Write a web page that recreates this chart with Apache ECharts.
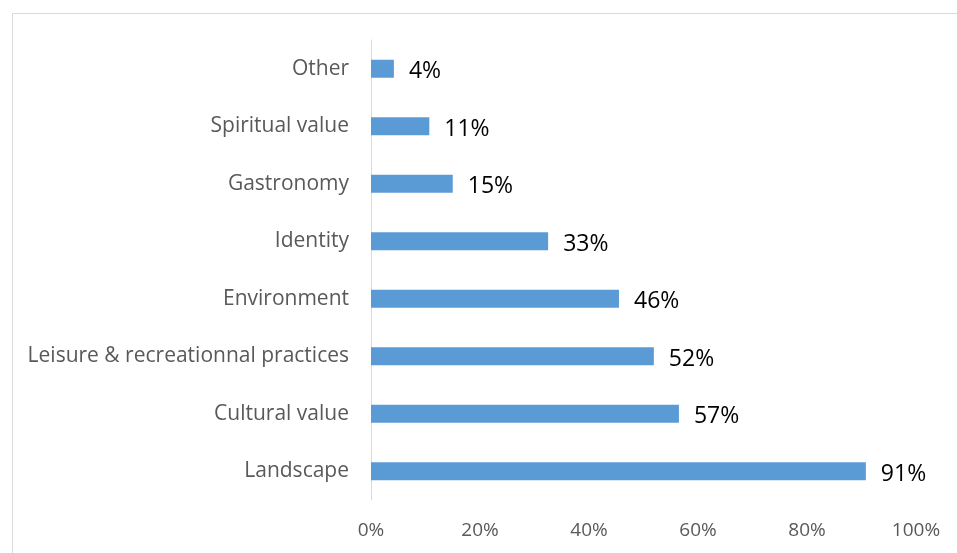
<!DOCTYPE html>
<html>
<head>
<meta charset="utf-8">
<script src="https://cdn.jsdelivr.net/npm/echarts@6/dist/echarts.min.js"></script>
<style>
  html, body { margin: 0; padding: 0; background: #fff; }
  #chart { width: 957px; height: 553px; }
</style>
</head>
<body>
<div id="chart"></div>
<script>
// categories, bottom to top
var categories = ['Landscape', 'Cultural value', 'Leisure & recreationnal practices', 'Environment', 'Identity', 'Gastronomy', 'Spiritual value', 'Other'];
// shares in % (labels show them rounded)
var values = [90.8, 56.5, 51.9, 45.5, 32.5, 15.0, 10.7, 4.2];
var xTicks = [0, 20, 40, 60, 80, 100];

var chart = echarts.init(document.getElementById('chart'));
var font = 'Open Sans, Liberation Sans, sans-serif';

var option = {
  animation: false,
  graphic: [{
    type: 'rect',
    left: 10, top: 11,
    shape: { width: 960, height: 560 },
    style: { fill: 'none', stroke: '#d9d9d9', lineWidth: 1 }
  }],
  grid: { left: 371, right: 41, top: 40, bottom: 53 },
  xAxis: {
    type: 'value',
    min: xTicks[0],
    max: xTicks[xTicks.length - 1],
    interval: 20,
    axisLine: { show: false },
    axisTick: { show: false },
    splitLine: { show: false },
    axisLabel: { formatter: '{value}%', color: '#595959', fontSize: 19, fontFamily: font, margin: 21 }
  },
  yAxis: {
    type: 'category',
    data: categories,
    axisLine: { show: true, lineStyle: { color: '#d9d9d9', width: 1 } },
    axisTick: { show: false },
    axisLabel: { color: '#595959', fontSize: 21, fontFamily: font, margin: 22 }
  },
  series: [{
    type: 'bar',
    data: values,
    barWidth: 18,
    itemStyle: { color: '#5b9bd5' },
    label: {
      show: true,
      position: 'right',
      distance: 15,
      formatter: function (p) { return Math.round(p.value) + '%'; },
      color: '#000',
      fontSize: 23,
      fontFamily: font,
      offset: [0, 3]
    }
  }]
};
chart.setOption(option);
</script>
</body>
</html>
